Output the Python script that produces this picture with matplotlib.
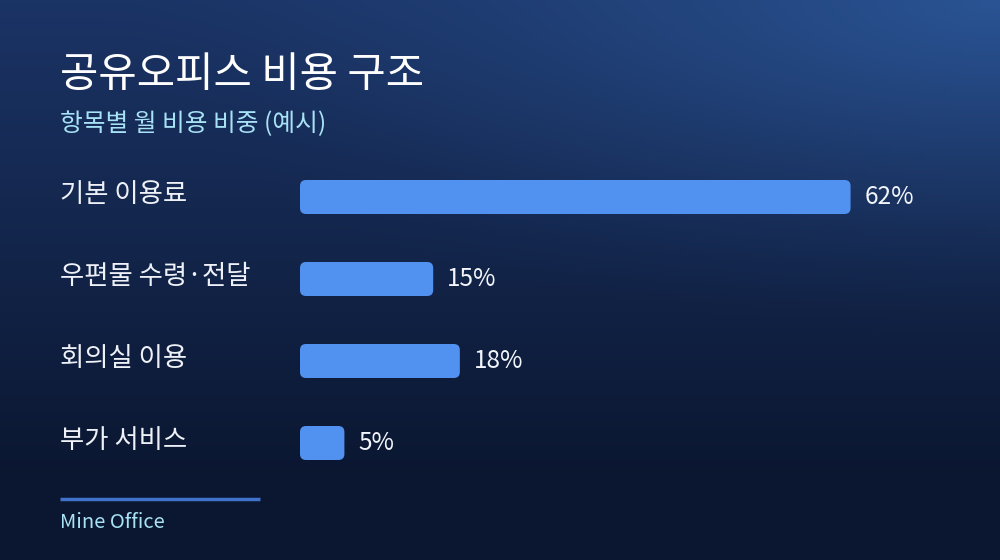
import matplotlib
matplotlib.use("Agg")
import matplotlib.pyplot as plt
import numpy as np
from matplotlib.patches import FancyBboxPatch
import matplotlib.colors as mcolors

plt.rcParams['font.family'] = ['Noto Sans CJK KR', 'DejaVu Sans']

title = "공유오피스 비용 구조"
subtitle = "항목별 월 비용 비중 (예시)"
categories = ["기본 이용료", "우편물 수령·전달", "회의실 이용", "부가 서비스"]
values = [62, 15, 18, 5]
value_labels = ["62%", "15%", "18%", "5%"]
footer = "Mine Office"

W, H = 1000, 560
fig = plt.figure(figsize=(W / 100, H / 100), dpi=100)

# background gradient
bg = fig.add_axes([0, 0, 1, 1])
bg.set_axis_off()
yy, xx = np.mgrid[0:1:280j, 0:1:500j]
top = np.array(mcolors.to_rgb("#1b3466"))
bot = np.array(mcolors.to_rgb("#0b1731"))
glow = np.array(mcolors.to_rgb("#2a5494"))
t = np.clip(yy / 0.85, 0, 1)[..., None]
base = top * (1 - t) + bot * t
d = np.sqrt(((xx - 1.0) / 0.9) ** 2 + (yy / 0.6) ** 2)
g = np.clip(1 - d, 0, 1)[..., None] ** 1.5
img = base * (1 - g) + glow * g
bg.imshow(img, extent=[0, 1, 0, 1], aspect='auto', origin='upper', zorder=0)
bg.set_xlim(0, 1)
bg.set_ylim(0, 1)

# bar axes: x from px 300 to 1000, y from px 160 to 480
px_per_x = 8.88
px_per_y = 82.0
ax = fig.add_axes([0.3, (H - 480) / H, 0.7, 320 / H])
ax.set_axis_off()
ax.set_xlim(0, 700 / px_per_x)
ax.set_ylim(283 / px_per_y, -37 / px_per_y)
ax.patch.set_alpha(0)

bar_h = 34 / px_per_y
r = 6 / px_per_x
for i, (c, v, lab) in enumerate(zip(categories, values, value_labels)):
    p = FancyBboxPatch((0, i - bar_h / 2), v, bar_h,
                       boxstyle=f"round,pad=0,rounding_size={r}",
                       mutation_aspect=px_per_x / px_per_y,
                       facecolor="#5192f0", edgecolor="none", zorder=3)
    ax.add_patch(p)
    ax.text(v + 14 / px_per_x, i, lab, color="#f2f5fa", fontsize=17.5,
            va='center', ha='left', zorder=4)
    ax.text(-240 / 700, i - 2 / px_per_y, c, color="#eef2f8", fontsize=19,
            va='center', ha='left', transform=ax.get_yaxis_transform(),
            clip_on=False)

fig.text(60 / W, 1 - 87 / H, title, color="white", fontsize=30,
         fontweight='medium', va='baseline', ha='left')
fig.text(60 / W, 1 - 131 / H, subtitle, color="#a8e2f5", fontsize=17.8,
         va='baseline', ha='left')

bg.plot([60 / W, 260 / W], [1 - 499 / H, 1 - 499 / H], color="#3f72c8",
        lw=2.5, solid_capstyle='butt', zorder=2)
fig.text(60 / W, 1 - 528 / H, footer, color="#a8e2f5", fontsize=14.5,
         va='baseline', ha='left')

fig.savefig("out.png", dpi=100)
